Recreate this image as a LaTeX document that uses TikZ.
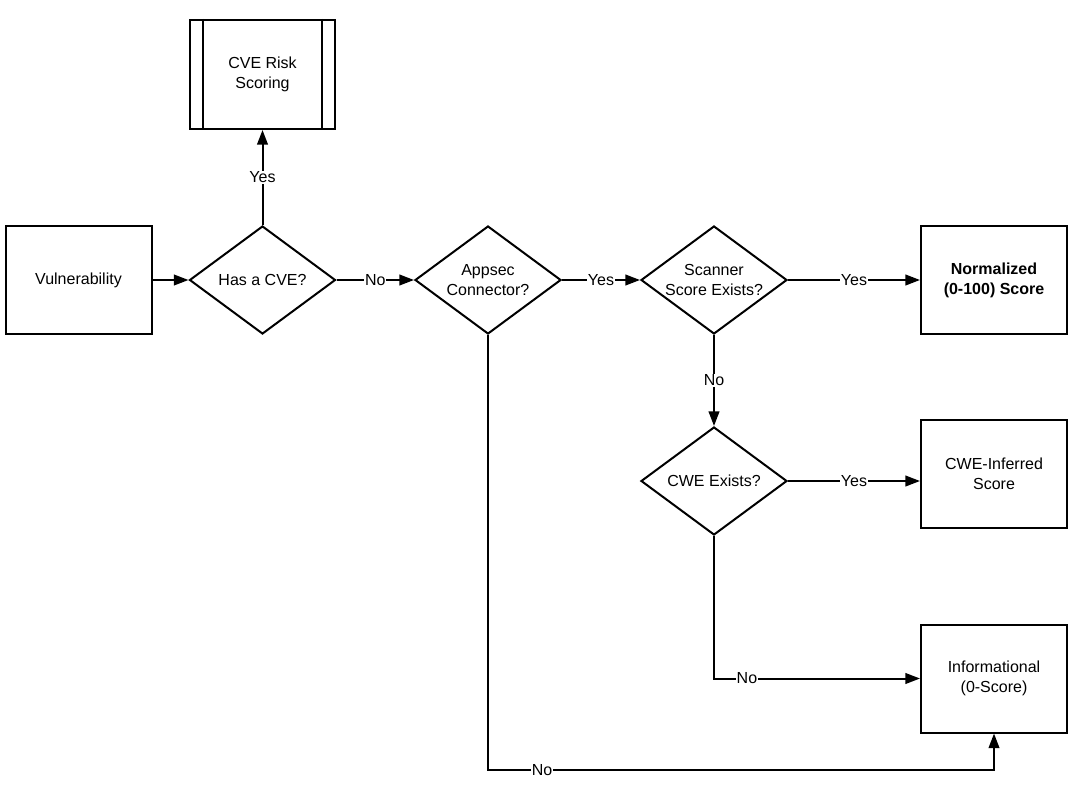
\documentclass[tikz,border=0pt]{standalone}
\usepackage{fontspec}
\setmainfont{Liberation Sans}
\usetikzlibrary{shapes.geometric,arrows.meta}
\begin{document}
\begin{tikzpicture}[x=0.75pt,y=-0.75pt,
  every node/.style={font=\fontsize{12pt}{15pt}\selectfont},
  box/.style={draw,line width=1.5pt,minimum width=109.5pt,minimum height=81pt,align=center,inner sep=0pt},
  dec/.style={draw,diamond,line width=1.5pt,minimum width=109.5pt,minimum height=81pt,inner sep=0pt},
  dtext/.style={label={[align=center]center:#1}},
  conn/.style={line width=1.5pt,-{Triangle[length=11pt,width=8pt]}},
  lab/.style={fill=white,inner sep=0.5pt}]
\useasboundingbox (0,0) rectangle (1084,799);
\node[box,minimum width=108.75pt,minimum height=81.75pt] (cve) at (262.5,74.5) {CVE Risk\\Scoring};
\draw[line width=1.5pt] ([xshift=10.5pt]cve.north west) -- ([xshift=10.5pt]cve.south west);
\draw[line width=1.5pt] ([xshift=-10.5pt]cve.north east) -- ([xshift=-10.5pt]cve.south east);
\node[box] (vul) at (78.5,280) {Vulnerability};
\node[dec,dtext={Has a CVE?}] (has) at (262.5,280) {};
\node[dec,dtext={Appsec\\Connector?}] (app) at (488,280) {};
\node[dec,dtext={Scanner\\Score Exists?}] (scan) at (714,280) {};
\node[box,font=\fontsize{12pt}{15pt}\selectfont\bfseries] (norm) at (994,280) {Normalized\\(0-100) Score};
\node[dec,dtext={CWE Exists?}] (cwe) at (714,481) {};
\node[box] (inf) at (994,473.5) {CWE-Inferred\\Score};
\node[box] (info) at (994,678.5) {Informational\\(0-Score)};
\coordinate (b1) at (488,770);
\coordinate (b2) at (994,770);
\draw[conn] (vul) -- (has);
\draw[conn] (has) -- node[lab]{Yes} (cve);
\draw[conn] (has) -- node[lab]{No} (app);
\draw[conn] (app) -- node[lab]{Yes} (scan);
\draw[conn] (scan) -- node[lab]{Yes} (norm);
\draw[conn] (scan) -- node[lab]{No} (cwe);
\draw[conn] (cwe.east) -- node[lab]{Yes} (cwe.east -| inf.west);
\draw[conn] (cwe.south) |- node[lab,pos=0.58]{No} (info.west);
\draw[conn] (app.south) -- (b1) -- node[lab,pos=0.107]{No} (b2) -- (info.south);
\end{tikzpicture}
\end{document}
